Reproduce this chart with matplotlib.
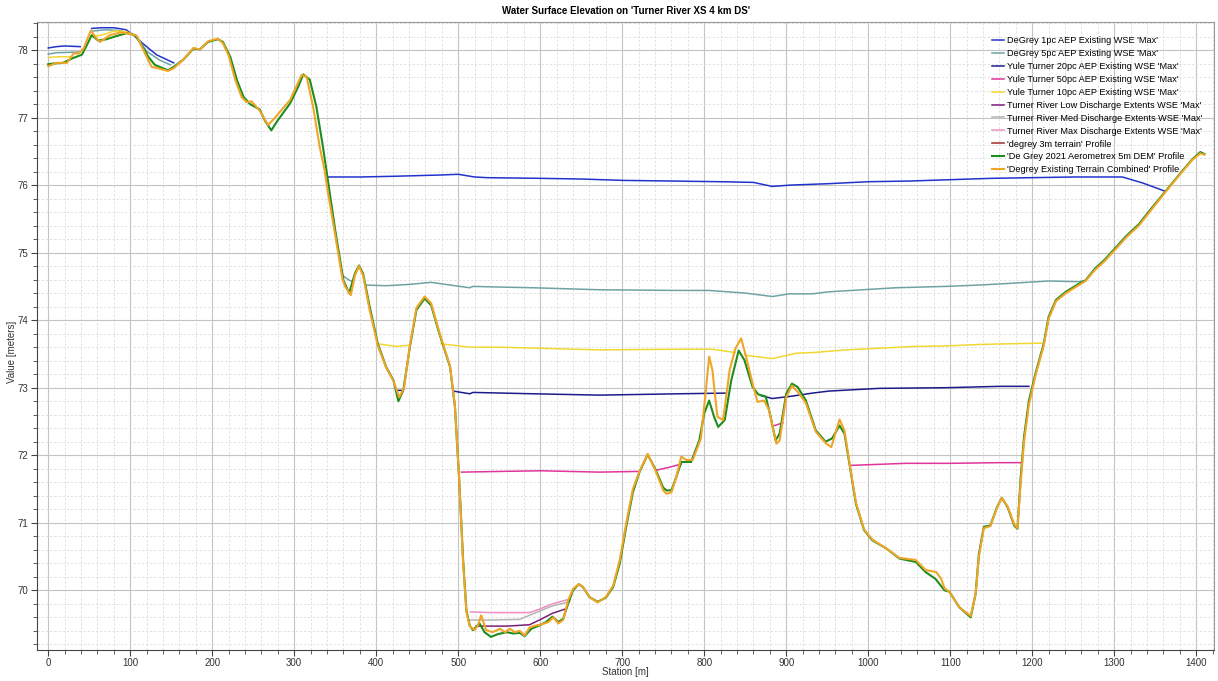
"""Water surface elevation along the Turner River XS 4 km DS cross-section."""

import numpy as np
import matplotlib
matplotlib.use("Agg")
import matplotlib.pyplot as plt
from matplotlib.ticker import MultipleLocator

nan = np.nan

# --- terrain profiles (station m, elevation m) ---
dem_st = [0, 6, 18, 30, 41, 47, 53, 61, 71, 84, 96, 106, 114, 122, 130, 138, 146, 153, 165, 177,
          185, 195, 207, 213, 222, 230, 238, 246, 258, 264, 272, 280, 295, 305, 311, 319, 327, 335,
          341, 350, 360, 367, 374, 379, 384, 392, 402, 412, 421, 427, 433, 441, 449, 459, 467, 477,
          490, 496, 501, 506, 510, 514, 518, 522, 526, 532, 540, 548, 559, 567, 575, 581, 589, 599,
          607, 615, 622, 628, 634, 640, 647, 652, 660, 670, 680, 689, 697, 705, 713, 721, 731, 741,
          750, 754, 760, 766, 772, 784, 794, 800, 806, 812, 817, 825, 833, 842, 849, 859, 866, 875,
          881, 887, 892, 900, 907, 914, 924, 936, 948, 956, 965, 971, 977, 985, 995, 1005, 1022,
          1038, 1058, 1070, 1082, 1093, 1099, 1111, 1125, 1131, 1135, 1141, 1149, 1157, 1163, 1170,
          1178, 1182, 1186, 1190, 1196, 1204, 1214, 1220, 1229, 1241, 1257, 1265, 1277, 1288, 1300,
          1315, 1330, 1345, 1362, 1381, 1395, 1405, 1410]
dem_z = [77.79, 77.80, 77.81, 77.88, 77.93, 78.07, 78.22, 78.14, 78.16, 78.21, 78.25, 78.22, 78.07,
         77.90, 77.78, 77.74, 77.70, 77.75, 77.86, 78.02, 78.01, 78.12, 78.16, 78.12, 77.90, 77.56,
         77.31, 77.20, 77.12, 76.96, 76.81, 76.96, 77.21, 77.46, 77.64, 77.56, 77.16, 76.57, 76.07,
         75.33, 74.59, 74.40, 74.69, 74.81, 74.69, 74.20, 73.65, 73.31, 73.11, 72.80, 72.96, 73.60,
         74.15, 74.32, 74.22, 73.80, 73.31, 72.72, 71.68, 70.44, 69.70, 69.48, 69.41, 69.46, 69.51,
         69.38, 69.31, 69.35, 69.38, 69.36, 69.37, 69.32, 69.43, 69.48, 69.53, 69.61, 69.53, 69.58,
         69.80, 70.00, 70.09, 70.05, 69.90, 69.83, 69.89, 70.05, 70.40, 70.95, 71.45, 71.75, 72.01,
         71.78, 71.52, 71.48, 71.48, 71.68, 71.90, 71.90, 72.22, 72.62, 72.81, 72.57, 72.42, 72.52,
         73.11, 73.55, 73.41, 73.01, 72.90, 72.87, 72.57, 72.22, 72.32, 72.91, 73.06, 73.01, 72.81,
         72.37, 72.20, 72.25, 72.44, 72.32, 71.88, 71.28, 70.89, 70.74, 70.62, 70.47, 70.42, 70.27,
         70.17, 70.00, 69.98, 69.75, 69.60, 69.95, 70.54, 70.94, 70.96, 71.23, 71.37, 71.23, 70.96,
         70.91, 71.68, 72.27, 72.81, 73.21, 73.65, 74.05, 74.30, 74.42, 74.54, 74.59, 74.77, 74.89,
         75.05, 75.25, 75.42, 75.65, 75.90, 76.18, 76.38, 76.49, 76.46]

comb_st = [0, 10, 23, 31, 37, 43, 52, 57, 63, 75, 88, 100, 108, 118, 126, 134, 146, 153, 165, 177,
           185, 195, 207, 213, 220, 228, 236, 242, 248, 258, 268, 276, 295, 309, 315, 323, 331, 337,
           341, 349, 359, 362, 369, 374, 379, 384, 392, 402, 412, 421, 428, 434, 441, 449, 459, 467,
           477, 490, 496, 501, 506, 510, 514, 520, 524, 528, 534, 542, 551, 557, 563, 569, 575, 581,
           587, 595, 603, 610, 616, 622, 628, 634, 640, 647, 652, 660, 670, 680, 689, 697, 705, 713,
           721, 731, 741, 750, 754, 760, 766, 772, 778, 786, 796, 802, 806, 810, 816, 823, 831, 838,
           845, 851, 859, 865, 873, 879, 888, 892, 900, 907, 916, 924, 936, 948, 955, 965, 971, 977,
           985, 995, 1005, 1022, 1038, 1058, 1070, 1083, 1089, 1093, 1099, 1111, 1125, 1131, 1135,
           1141, 1149, 1157, 1163, 1170, 1178, 1182, 1186, 1190, 1196, 1204, 1214, 1220, 1229, 1241,
           1257, 1265, 1277, 1288, 1300, 1315, 1330, 1345, 1362, 1381, 1395, 1405, 1410]
comb_z = [77.76, 77.81, 77.81, 77.95, 77.95, 78.02, 78.29, 78.20, 78.12, 78.22, 78.26, 78.24, 78.21,
          77.95, 77.75, 77.73, 77.69, 77.73, 77.86, 78.03, 78.01, 78.13, 78.17, 78.10, 77.92, 77.56,
          77.30, 77.23, 77.24, 77.10, 76.89, 76.99, 77.26, 77.63, 77.61, 77.16, 76.57, 76.22, 75.90,
          75.33, 74.60, 74.50, 74.37, 74.66, 74.80, 74.66, 74.15, 73.62, 73.30, 73.10, 72.86, 73.00,
          73.62, 74.18, 74.35, 74.25, 73.82, 73.32, 72.72, 71.68, 70.40, 69.68, 69.47, 69.41, 69.48,
          69.63, 69.41, 69.38, 69.43, 69.38, 69.43, 69.38, 69.40, 69.33, 69.45, 69.48, 69.50, 69.53,
          69.60, 69.51, 69.56, 69.85, 70.02, 70.09, 70.05, 69.90, 69.82, 69.90, 70.07, 70.45, 71.00,
          71.50, 71.76, 72.02, 71.76, 71.48, 71.43, 71.45, 71.68, 71.98, 71.93, 71.93, 72.25, 72.96,
          73.46, 73.26, 72.57, 72.52, 73.26, 73.58, 73.73, 73.46, 73.06, 72.79, 72.81, 72.67, 72.17,
          72.22, 72.86, 73.03, 72.91, 72.77, 72.35, 72.18, 72.12, 72.53, 72.37, 71.90, 71.30, 70.90,
          70.75, 70.62, 70.48, 70.45, 70.30, 70.27, 70.17, 70.03, 69.98, 69.75, 69.62, 69.95, 70.50,
          70.92, 70.95, 71.22, 71.37, 71.24, 70.98, 70.92, 71.60, 72.20, 72.75, 73.18, 73.62, 74.02,
          74.28, 74.40, 74.52, 74.58, 74.75, 74.87, 75.03, 75.23, 75.40, 75.63, 75.89, 76.17, 76.37,
          76.47, 76.45]

# --- water surface elevations (nan splits the wetted segments) ---
dg1_st = [0, 10, 20, 39, nan, 53, 65, 80, 95, 104, 116, 132, 153, nan,
          341, 380, 420, 450, 480, 500, 520, 535, 600, 650, 700, 760, 820, 860, 883, 905, 950,
          1000, 1050, 1100, 1150, 1200, 1250, 1300, 1310, 1335, 1362]
dg1_z = [78.03, 78.05, 78.06, 78.05, nan, 78.32, 78.33, 78.33, 78.30, 78.22, 78.09, 77.93, 77.81, nan,
         76.12, 76.12, 76.13, 76.14, 76.15, 76.16, 76.12, 76.11, 76.10, 76.09, 76.07, 76.06, 76.05,
         76.04, 75.98, 76.00, 76.02, 76.05, 76.06, 76.08, 76.10, 76.11, 76.12, 76.12, 76.12, 76.03,
         75.91]

dg5_st = [0, 10, 37, nan, 53, 70, 85, 97, 108, 120, 136, 149, nan,
          359, 366, 371, nan, 387, 412, 441, 467, 490, 514, 518, 551, 591, 672, 770, 806, 851, 883,
          904, 932, 952, 993, 1034, 1095, 1135, 1166, 1220, 1257, 1262]
dg5_z = [77.94, 77.96, 77.97, nan, 78.28, 78.30, 78.29, 78.26, 78.20, 77.98, 77.85, 77.78, nan,
         74.66, 74.60, 74.57, nan, 74.52, 74.51, 74.53, 74.56, 74.52, 74.48, 74.50, 74.49, 74.48,
         74.45, 74.44, 74.44, 74.40, 74.35, 74.39, 74.39, 74.42, 74.45, 74.48, 74.50, 74.52, 74.54,
         74.58, 74.57, 74.58]

yt20_st = [424, 432, nan, 494, 514, 518, 591, 672, 770, 827, nan, 870, 883, 904, 932, 952, 1013,
           1095, 1160, 1196]
yt20_z = [72.96, 72.96, nan, 72.95, 72.91, 72.93, 72.91, 72.89, 72.91, 72.92, nan, 72.88, 72.84,
          72.87, 72.92, 72.95, 72.99, 73.00, 73.02, 73.02]

yt50_st = [504, 551, 600, 672, 719, nan, 742, 757, 772, nan, 886, 896, nan, 979, 1046, 1099, 1160, 1186]
yt50_z = [71.75, 71.76, 71.77, 71.75, 71.76, nan, 71.78, 71.82, 71.87, nan, 72.44, 72.48, nan,
          71.85, 71.88, 71.88, 71.89, 71.89]

yt10_st = [0, 10, 29, nan, 57, 65, 80, 93, 100, nan,
           402, 425, 441, nan, 479, 514, 551, 672, 770, 810, 838, nan, 849, 851, 883, 912, 932, 973,
           1054, 1098, 1135, 1172, 1212]
yt10_z = [77.89, 77.90, 77.90, nan, 78.21, 78.22, 78.28, 78.28, 78.25, nan,
          73.65, 73.61, 73.63, nan, 73.65, 73.60, 73.60, 73.56, 73.57, 73.57, 73.52, nan, 73.49,
          73.48, 73.43, 73.51, 73.52, 73.56, 73.61, 73.62, 73.64, 73.65, 73.66]

low_st = [522, 560, 587, 599, 615, 630]
low_z = [69.47, 69.47, 69.49, 69.56, 69.66, 69.72]
med_st = [512, 540, 575, 599, 615, 636]
med_z = [69.56, 69.56, 69.57, 69.69, 69.77, 69.83]
max_st = [515, 540, 587, 599, 615, 636]
max_z = [69.68, 69.67, 69.67, 69.72, 69.80, 69.87]

plt.rcParams["font.family"] = ["Liberation Sans", "DejaVu Sans"]

W, H = 1218, 681
fig = plt.figure(figsize=(W / 100, H / 100), dpi=100)
ax = fig.add_axes([37 / W, 1 - 650 / H, (1214 - 37) / W, (650 - 22) / H])

wse = [
    (dg1_st, dg1_z, "#2233cc", "DeGrey 1pc AEP Existing WSE 'Max'"),
    (dg5_st, dg5_z, "#6fa3a3", "DeGrey 5pc AEP Existing WSE 'Max'"),
    (yt20_st, yt20_z, "#1c1c8a", "Yule Turner 20pc AEP Existing WSE 'Max'"),
    (yt50_st, yt50_z, "#e0359b", "Yule Turner 50pc AEP Existing WSE 'Max'"),
    (yt10_st, yt10_z, "#f2d733", "Yule Turner 10pc AEP Existing WSE 'Max'"),
    (low_st, low_z, "#7a1f7a", "Turner River Low Discharge Extents WSE 'Max'"),
    (med_st, med_z, "#b4b4b4", "Turner River Med Discharge Extents WSE 'Max'"),
    (max_st, max_z, "#ee8fc0", "Turner River Max Discharge Extents WSE 'Max'"),
]
for st, z, c, lab in wse:
    ax.plot(st, z, color=c, lw=1.1, label=lab)

ax.plot([], [], color="#a8403a", lw=1.2, label="'degrey 3m terrain' Profile")
ax.plot(dem_st, dem_z, color="#1e8c1e", lw=1.5, label="'De Grey 2021 Aerometrex 5m DEM' Profile")
ax.plot(comb_st, comb_z, color="#f0a526", lw=1.5, label="'Degrey Existing Terrain Combined' Profile")

ax.set_xlim(-13.7, 1421.7)
ax.set_ylim(69.116, 78.415)
ax.xaxis.set_major_locator(MultipleLocator(100))
ax.xaxis.set_minor_locator(MultipleLocator(20))
ax.yaxis.set_major_locator(MultipleLocator(1))
ax.yaxis.set_minor_locator(MultipleLocator(0.2))
ax.grid(which="major", color="#c4c4c4", lw=0.8)
ax.grid(which="minor", color="#dedede", lw=0.6, ls=(0, (3, 2)))
ax.set_axisbelow(True)
ax.tick_params(which="both", direction="out", labelsize=7, colors="#444444", labelcolor="#333333")
ax.tick_params(which="major", length=4, width=0.8, pad=2)
ax.tick_params(which="minor", length=3, width=0.6)
for side in ["left", "bottom"]:
    ax.spines[side].set_color("#444444")
for side in ["top", "right"]:
    ax.spines[side].set_color("#999999")

# axis titles and chart title placed in figure pixels
fig.text(625 / W, 1 - 672 / H, "Station [m]", ha="center", va="center", fontsize=7, color="#333333")
fig.text(12 / W, 1 - 352 / H, "Value [meters]", ha="center", va="center", rotation=90,
         fontsize=7, color="#333333")
fig.text(626 / W, 1 - 11 / H, "Water Surface Elevation on 'Turner River XS 4 km DS'",
         ha="center", va="center", fontsize=7, fontweight="bold")

ax.legend(loc="upper left", bbox_to_anchor=(992 / W, 1 - 36 / H),
          bbox_transform=fig.transFigure, frameon=False, fontsize=6.6,
          handlelength=1.3, handletextpad=0.3, labelspacing=0.43, borderpad=0, borderaxespad=0)

fig.savefig("out.png", dpi=100)
